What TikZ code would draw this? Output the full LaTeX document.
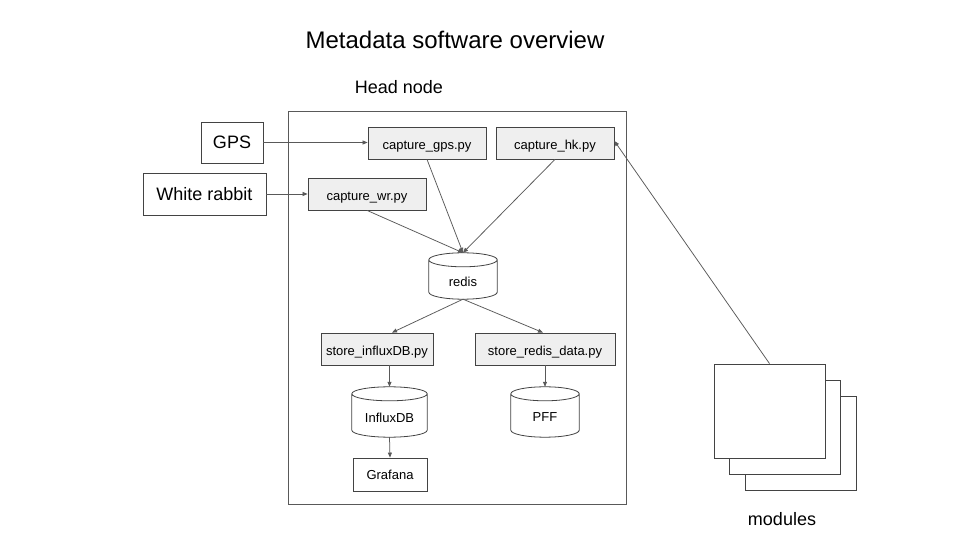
\documentclass[tikz,border=0pt]{standalone}
\usepackage{fontspec}
\setmainfont{Liberation Sans}
\usetikzlibrary{calc,arrows.meta}
\definecolor{edge}{HTML}{595959}
\definecolor{boxline}{HTML}{434343}
\definecolor{boxfill}{HTML}{EFEFEF}
\newcommand{\cylout}[1]{%
  \fill[white] (#1.north west) rectangle (#1.south east);
  \draw[cylline] let \p1=(#1.north west), \p2=(#1.south east), \n1={(\x2-\x1)/2} in
    (\x1,\y1-7pt) -- (\x1,\y2+7pt) arc[start angle=180,end angle=360,x radius=\n1,y radius=7pt]
    -- (\x2,\y1-7pt) arc[start angle=0,end angle=360,x radius=\n1,y radius=7pt];
}
\begin{document}
\begin{tikzpicture}[x=1pt,y=1pt,
  script/.style={draw=boxline,fill=boxfill,line width=0.8pt,inner sep=0pt,text height=14pt,text depth=0pt,font=\fontsize{13}{15}\selectfont},
  plainbox/.style={draw=boxline,fill=white,line width=0.8pt,inner sep=0pt,text height=11pt,text depth=0pt,font=\fontsize{13}{15}\selectfont},
  bigbox/.style={draw=boxline,fill=white,line width=0.8pt,inner sep=0pt,font=\fontsize{18}{21}\selectfont},
  dbnode/.style={inner sep=0pt,font=\fontsize{13}{15}\selectfont},
  cylline/.style={draw=boxline,line width=0.8pt},
  conn/.style={draw=edge,line width=0.75pt,-{Triangle[length=5pt,width=4pt]}},
  modbox/.style={draw=boxline,fill=white,line width=0.8pt,minimum width=111pt,minimum height=94pt,inner sep=0pt},
  label/.style={font=\fontsize{18}{21}\selectfont,inner sep=0pt}]
\useasboundingbox (0,0) rectangle (960,540);
\fill[white] (0,0) rectangle (960,540);

\node[font=\fontsize{24}{28}\selectfont,inner sep=0pt] (title) at (455,500) {Metadata software overview};
\node[label] (headlbl) at (399,453) {Head node};
\draw[edge,line width=0.8pt] (288,429) rectangle (626,36);

\node[bigbox,minimum width=62pt,minimum height=41pt] (gpsin) at (232,397.5) {GPS};
\node[bigbox,minimum width=123pt,minimum height=42pt] (wrin) at (204.5,346) {White rabbit};

\node[script,minimum width=118pt,minimum height=32pt] (cgps) at (427,397) {capture\_gps.py\hspace{5pt}};
\node[script,minimum width=118pt,minimum height=32pt] (chk) at (555,397) {capture\_hk.py\hspace{5pt}};
\node[script,minimum width=118pt,minimum height=32pt] (cwr) at (367,346) {capture\_wr.py\hspace{5pt}};

\node[dbnode,minimum width=68pt,minimum height=46pt] (redis) at (463,264) {};
\cylout{redis}
\node[dbnode] at ([yshift=-5.5pt]redis.center) {redis};

\node[script,minimum width=112pt,minimum height=32pt] (sinf) at (377,191) {store\_influxDB.py};
\node[script,minimum width=140pt,minimum height=32pt] (srd) at (545,191) {store\_redis\_data.py};

\node[dbnode,minimum width=75pt,minimum height=50pt] (influx) at (389.5,128) {};
\cylout{influx}
\node[dbnode] at ([yshift=-5.5pt]influx.center) {InfluxDB};
\node[dbnode,minimum width=68pt,minimum height=50pt] (pff) at (545,128) {};
\cylout{pff}
\node[dbnode] at ([yshift=-5.5pt]pff.center) {PFF};

\node[plainbox,minimum width=74pt,minimum height=33pt] (graf) at (390,65.5) {Grafana};

\node[modbox] (mod3) at (801,97) {};
\node[modbox] (mod2) at (785,113) {};
\node[modbox] (mod1) at (769.5,129) {};
\node[label] (modlbl) at (782,21) {modules};

\draw[conn] (gpsin.east) -- (gpsin.east -| cgps.west);
\draw[conn] (wrin.east) -- (wrin.east -| cwr.west);
\draw[conn] (cgps.south) -- (redis.north);
\draw[conn] (chk.south) -- (redis.north);
\draw[conn] (cwr.south) -- (redis.north);
\draw[conn] (redis.south) -- ([xshift=15pt]sinf.north);
\draw[conn] (redis.south) -- ([xshift=-2pt]srd.north);
\draw[conn] (influx.north |- sinf.south) -- (influx.north);
\draw[conn] (srd.south) -- (pff.north);
\draw[conn] (influx.south) -- (graf.north);
\draw[conn] (mod1.north) -- ([yshift=2pt]chk.east);
\end{tikzpicture}
\end{document}
